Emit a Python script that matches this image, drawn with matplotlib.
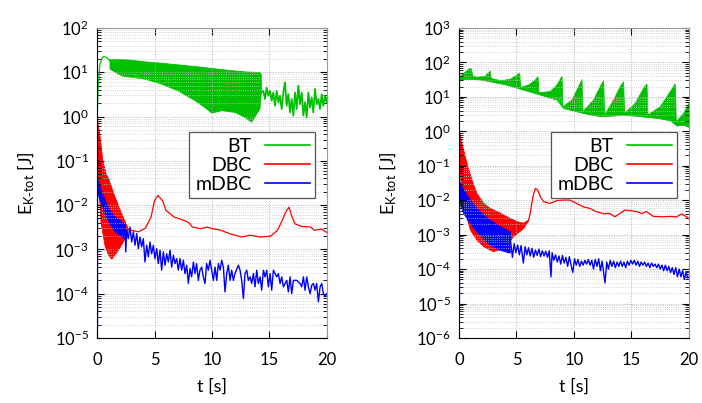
import matplotlib
matplotlib.use('Agg')
import matplotlib.pyplot as plt
from matplotlib.lines import Line2D
from matplotlib.ticker import LogLocator, NullFormatter
import numpy as np

plt.rcParams['font.family'] = ['Lato', 'DejaVu Sans']
plt.rcParams['mathtext.default'] = 'regular'

GREEN = '#00c000'
RED = '#ff0000'
BLUE = '#0000ff'

# ---------------- left panel ----------------
# BT: start, dense oscillation band (upper / lower envelope), noisy tail
bt1_head_t = [0, 0.03, 0.1, 0.25, 0.45, 0.6, 0.9, 1.13]
bt1_head_y = [40, 1.2, 5, 15, 21, 23, 21, 18]
bt1_up_t = [1.13, 2.72, 4.17, 5.62, 7.07, 8.52, 9.97, 11.42, 12.87, 14.17, 14.3]
bt1_up_y = [19.7, 19.1, 17.2, 16.0, 14.7, 13.5, 12.2, 11.1, 10.2, 9.9, 9.0]
bt1_lo_t = [1.13, 2.15, 4.17, 5.62, 7.07, 8.52, 9.39, 9.97, 10.84, 12.0, 12.87,
            13.45, 13.88, 14.17, 14.3]
bt1_lo_y = [11.8, 8.3, 7.0, 5.4, 3.8, 2.3, 1.6, 1.2, 1.36, 1.24, 0.96,
            0.74, 1.14, 1.5, 3.5]
bt1_tail_t = [14.3, 14.46, 14.61, 14.75, 14.90, 15.04, 15.19, 15.33, 15.48, 15.62,
              15.77, 15.91, 16.06, 16.20, 16.35, 16.49, 16.64, 16.78, 16.93, 17.07,
              17.22, 17.36, 17.51, 17.65, 17.80, 17.94, 18.09, 18.23, 18.38, 18.52,
              18.67, 18.81, 18.96, 19.10, 19.25, 19.39, 19.54, 19.68, 19.83, 19.97, 20.0]
bt1_tail_y = [3.5, 3.8, 2.5, 4.5, 2.95, 3.8, 2.3, 3.5, 1.76, 3.8,
              2.1, 2.95, 1.48, 3.5, 5.9, 1.76, 3.2, 1.24, 2.5, 1.05,
              3.5, 1.48, 5.0, 1.9, 3.5, 1.05, 2.1, 0.96, 3.5, 1.6,
              2.7, 1.24, 4.2, 1.9, 2.5, 1.48, 3.2, 1.76, 2.95, 2.1, 2.6]

# DBC: band then single line
dbc1_up_t = [0, 0.3, 0.5, 0.8, 1.0, 1.5, 2.0, 2.4, 2.7]
dbc1_up_y = [1.0, 0.3, 0.1, 0.05, 0.04, 0.017, 0.008, 0.0045, 0.003]
dbc1_lo_t = [0, 0.15, 0.35, 0.7, 1.0, 1.28, 1.8, 2.3, 2.7]
dbc1_lo_y = [0.3, 0.03, 0.004, 0.0012, 7.5e-4, 6e-4, 9e-4, 1.5e-3, 2.5e-3]
dbc1_t = [2.7, 3.0, 3.6, 4.2, 4.7, 5.0, 5.3, 5.7, 6.0, 6.7, 7.6, 8.0, 8.3, 9.0,
          9.6, 10.0, 10.7, 11.6, 12.6, 13.3, 14.2, 15.1, 15.7, 16.1, 16.4, 16.7,
          16.9, 17.2, 17.8, 18.6, 18.9, 19.5, 20.0]
dbc1_y = [2.9e-3, 2.7e-3, 2.5e-3, 3.0e-3, 5.4e-3, 0.0126, 0.0166, 0.0126, 7.6e-3,
          5.4e-3, 4.5e-3, 4.0e-3, 3.2e-3, 2.95e-3, 3.2e-3, 2.95e-3, 2.75e-3, 2.24e-3,
          1.9e-3, 2.1e-3, 1.9e-3, 2.0e-3, 2.7e-3, 4.5e-3, 6.9e-3, 9.0e-3, 6.0e-3,
          3.8e-3, 3.3e-3, 3.2e-3, 2.7e-3, 2.9e-3, 2.4e-3]

# mDBC: start, band, then single line
mdbc1_head_t = [0, 0]
mdbc1_head_y = [1.8e-5, 0.03]
mdbc1_band_t = [0, 0.26, 0.7, 1.13, 1.56, 2.0, 2.43]
mdbc1_up_y = [0.043, 0.026, 0.013, 7.6e-3, 5.4e-3, 4.5e-3, 3.6e-3]
mdbc1_lo_y = [0.021, 0.013, 6.4e-3, 3.8e-3, 2.5e-3, 2.1e-3, 1.75e-3]
mdbc1_t = [2.43, 2.5, 2.58, 2.72, 2.87, 3.01, 3.16, 3.30, 3.45, 3.59, 3.74, 3.88,
           4.03, 4.17, 4.32, 4.46, 4.61, 4.75, 4.90, 5.04, 5.19, 5.33, 5.48, 5.62,
           5.77, 5.91, 6.06, 6.20, 6.35, 6.49, 6.64, 6.78, 6.93, 7.07, 7.22, 7.36,
           7.51, 7.65, 7.80, 7.94, 8.09, 8.23, 8.38, 8.52, 8.66, 8.81, 8.95, 9.10,
           9.24, 9.39, 9.53, 9.68, 9.83, 9.97, 10.12, 10.26, 10.41, 10.55, 10.70,
           10.84, 10.99, 11.13, 11.28, 11.42, 11.57, 11.71, 11.86, 12.00, 12.29,
           12.44, 12.58, 12.73, 12.87, 13.02, 13.16, 13.31, 13.45, 13.60, 13.74,
           13.89, 14.03, 14.18, 14.32, 14.47, 14.61, 14.76, 14.90, 15.05, 15.19,
           15.34, 15.63, 15.77, 15.92, 16.06, 16.21, 16.50, 16.64, 16.79, 16.93,
           17.08, 17.37, 17.66, 17.80, 17.95, 18.09, 18.24, 18.38, 18.53, 18.67,
           18.82, 18.96, 19.10, 19.25, 19.40, 19.54, 19.69, 19.83, 19.98]
mdbc1_y = [3.5e-3, 8.8e-4, 2.7e-3, 1.75e-3, 3.2e-3, 1.47e-3, 2.5e-3, 1.24e-3, 2.27e-3,
           1.04e-3, 1.9e-3, 1.14e-3, 1.75e-3, 5.2e-4, 1.24e-3, 6.8e-4, 1.47e-3, 8.0e-4,
           1.24e-3, 6.2e-4, 1.04e-3, 4.8e-4, 9.6e-4, 3.4e-4, 8.8e-4, 4.4e-4, 8.0e-4,
           5.2e-4, 9.6e-4, 4.0e-4, 7.4e-4, 4.8e-4, 6.2e-4, 3.4e-4, 6.2e-4, 3.4e-4,
           5.7e-4, 2.85e-4, 4.4e-4, 1.7e-4, 3.7e-4, 2.4e-4, 5.2e-4, 2.85e-4, 4.8e-4,
           2.0e-4, 3.4e-4, 4.0e-4, 2.4e-4, 1.7e-4, 4.8e-4, 3.4e-4, 5.7e-4, 3.4e-4,
           2.0e-4, 4.0e-4, 2.0e-4, 4.8e-4, 3.4e-4, 5.7e-4, 4.0e-4, 1.1e-4, 2.85e-4,
           4.4e-4, 2.0e-4, 3.4e-4, 2.0e-4, 2.85e-4, 4.4e-4, 3.4e-4, 2.0e-4, 7.8e-5,
           2.85e-4, 3.4e-4, 2.0e-4, 2.4e-4, 1.7e-4, 2.85e-4, 1.43e-4, 3.4e-4, 1.7e-4,
           2.4e-4, 1.2e-4, 3.4e-4, 2.4e-4, 3.4e-4, 1.43e-4, 2.85e-4, 1.2e-4, 3.4e-4,
           2.4e-4, 2.85e-4, 1.7e-4, 2.4e-4, 1.43e-4, 2.0e-4, 1.1e-4, 2.4e-4, 1.0e-4,
           2.0e-4, 2.0e-4, 1.7e-4, 1.43e-4, 2.4e-4, 1.2e-4, 2.4e-4, 1.43e-4, 1.0e-4,
           1.55e-4, 1.7e-4, 1.2e-4, 1.7e-4, 6.6e-5, 1.43e-4, 1.7e-4, 1.0e-4, 8.5e-5,
           1.0e-4]

# ---------------- right panel ----------------
bt2_head_t = [0, 0, 0.03, 0.06]
bt2_head_y = [105, 7, 7, 30]
bt2_up_t = [0.06, 0.41, 0.84, 1.04, 1.22, 1.57, 2.29, 2.72, 2.81, 3.59, 4.46, 5.04,
            5.28, 5.36, 6.06, 6.64, 6.87, 6.96, 7.94, 8.52, 8.96, 9.04, 9.83, 10.41,
            10.7, 10.78, 11.71, 12.29, 12.58, 12.67, 13.45, 14.03, 14.32, 14.4, 15.33,
            16.06, 16.35, 16.43, 17.51, 18.38, 18.81, 18.9, 19.54, 20.0]
bt2_up_y = [38.6, 48, 63, 68, 40, 36.9, 40, 56, 34.5, 29.5, 32.3, 43,
            50, 18.9, 22, 31, 38.6, 13.2, 14.2, 22, 40, 5.2, 8.1, 19.8,
            32, 3.7, 8.1, 19.8, 29.7, 2.97, 8.1, 19.8, 27.6, 3.3, 6.5,
            17.7, 23.7, 2.97, 5.2, 14.2, 23.7, 1.9, 3.3, 6.5]
bt2_lo_t = [0.06, 0.55, 1.13, 1.86, 2.72, 4.17, 5.62, 7.07, 8.52, 9.1, 9.97, 10.84,
            12.29, 13.45, 14.32, 15.77, 17.22, 18.38, 18.96, 19.54, 20.0]
bt2_lo_y = [29.5, 32, 32, 31, 27.6, 22, 15.8, 11.3, 8.1, 4.6, 3.9, 3.3,
            2.66, 2.78, 2.97, 2.66, 2.38, 2.04, 1.43, 1.5, 1.3]

dbc2_up_t = [0, 0.05, 0.26, 0.7, 1.13, 1.56, 2.14, 2.72, 3.6, 4.17, 5.04, 5.62, 6.06]
dbc2_up_y = [1.9, 1.0, 0.45, 0.117, 0.0385, 0.0158, 8.1e-3, 5.8e-3, 4.2e-3, 3.3e-3,
             2.4e-3, 2.15e-3, 2.65e-3]
dbc2_lo_t = [0, 0.2, 0.5, 1.0, 1.56, 2.14, 3.0, 3.88, 4.75, 5.62, 6.06]
dbc2_lo_y = [0.3, 0.03, 5e-3, 1.35e-3, 6.9e-4, 4.5e-4, 3.2e-4, 4e-4, 8.7e-4, 1.5e-3, 2.5e-3]
dbc2_t = [6.06, 6.2, 6.43, 6.64, 6.84, 7.07, 7.36, 7.94, 8.52, 9.1, 9.65, 10.23, 10.81,
          11.39, 11.97, 12.55, 13.13, 13.56, 14.0, 14.43, 14.87, 15.45, 15.88, 16.3,
          16.9, 17.77, 18.35, 18.93, 19.36, 19.8, 20.0]
dbc2_y = [2.65e-3, 4.2e-3, 0.0126, 0.022, 0.02, 0.0126, 9.1e-3, 8.1e-3, 9.8e-3, 0.0101,
          0.0101, 8.1e-3, 6.4e-3, 5.8e-3, 4.6e-3, 4.1e-3, 4.1e-3, 3.3e-3, 4.1e-3, 5.2e-3,
          5.0e-3, 4.7e-3, 4.1e-3, 4.7e-3, 3.4e-3, 3.3e-3, 3.4e-3, 3.3e-3, 4.0e-3, 3.3e-3,
          2.9e-3]

mdbc2_head_t = [0, 0]
mdbc2_head_y = [9e-6, 0.0385]
mdbc2_band_t = [0, 0.41, 1.0, 1.56, 2.14, 2.72, 3.6, 4.46]
mdbc2_up_y = [0.0385, 0.02, 0.0101, 5.8e-3, 3.7e-3, 2.65e-3, 1.7e-3, 1.2e-3]
mdbc2_lo_y = [0.01, 4.1e-3, 2.1e-3, 1.2e-3, 7.8e-4, 5e-4, 3.5e-4, 2.9e-4]
mdbc2_t = [4.46, 4.5, 4.65, 4.8, 4.95, 5.1, 5.25, 5.4, 5.6, 5.75, 5.9, 6.05, 6.2, 6.35,
           6.5, 6.65, 6.8, 6.95, 7.1, 7.25, 7.4, 7.55, 7.7, 7.85, 8.0, 8.1, 8.25, 8.4,
           8.55, 8.7, 8.85, 9.0, 9.15, 9.3, 9.45, 9.6, 9.75, 9.9, 10.05, 10.2, 10.35,
           10.5, 10.65, 10.8, 10.95, 11.1, 11.25, 11.4, 11.55, 11.7, 11.85, 12.0, 12.15,
           12.3, 12.45, 12.6, 12.7, 12.85, 13.0, 13.15, 13.3, 13.45, 13.6, 13.75, 13.9,
           14.05, 14.2, 14.35, 14.5, 14.65, 14.8, 14.95, 15.1, 15.25, 15.4, 15.55, 15.7,
           15.85, 16.0, 16.15, 16.3, 16.45, 16.6, 16.75, 16.9, 17.05, 17.2, 17.35, 17.5,
           17.65, 17.8, 17.95, 18.1, 18.25, 18.4, 18.55, 18.7, 18.85, 19.0, 19.15, 19.3,
           19.45, 19.6, 19.75, 19.9, 20.0]
mdbc2_y = [1.2e-3, 6.0e-4, 2.2e-4, 5.5e-4, 3.0e-4, 5.0e-4, 2.6e-4, 4.8e-4, 1.5e-4, 4.5e-4,
           2.6e-4, 4.2e-4, 2.4e-4, 4.0e-4, 2.2e-4, 3.6e-4, 2.5e-4, 3.8e-4, 2.3e-4, 3.4e-4,
           2.4e-4, 3.3e-4, 2.2e-4, 3.4e-4, 6e-5, 3.0e-4, 1.8e-4, 2.6e-4, 1.6e-4, 2.4e-4,
           1.4e-4, 2.5e-4, 1.5e-4, 2.2e-4, 1.2e-4, 2.3e-4, 1.3e-4, 8e-5, 2.0e-4, 1.3e-4,
           1.9e-4, 1.2e-4, 1.7e-4, 1.3e-4, 1.8e-4, 1.4e-4, 1.9e-4, 1.3e-4, 1.8e-4, 1.0e-4,
           1.9e-4, 1.2e-4, 2.0e-4, 9e-5, 1.7e-4, 7e-5, 4e-5, 1.6e-4, 1.0e-4, 1.8e-4,
           1.2e-4, 1.7e-4, 1.1e-4, 1.6e-4, 1.2e-4, 1.7e-4, 1.2e-4, 1.6e-4, 1.1e-4, 1.7e-4,
           1.3e-4, 1.8e-4, 1.4e-4, 1.8e-4, 1.3e-4, 1.7e-4, 1.2e-4, 1.6e-4, 1.3e-4, 1.6e-4,
           1.2e-4, 1.5e-4, 1.1e-4, 1.5e-4, 1.2e-4, 1.4e-4, 1.1e-4, 1.4e-4, 1.0e-4, 1.3e-4,
           9e-5, 1.3e-4, 9e-5, 1.2e-4, 8e-5, 1.1e-4, 7e-5, 1.1e-4, 6e-5, 1.0e-4,
           6e-5, 9e-5, 5e-5, 8e-5, 5.5e-5, 6e-5]


def band(ax, t_up, y_up, t_lo, y_lo, color):
    xs = np.concatenate([t_up, t_lo[::-1]])
    ys = np.concatenate([y_up, y_lo[::-1]])
    ax.fill(xs, ys, color=color, lw=0.6, edgecolor=color)


def style(ax, ymin, ymax):
    ax.set_yscale('log')
    ax.set_xlim(0, 20)
    ax.set_ylim(ymin, ymax)
    ax.set_xticks([0, 5, 10, 15, 20])
    ax.yaxis.set_major_locator(LogLocator(base=10, numticks=20))
    ax.yaxis.set_minor_locator(LogLocator(base=10, subs=np.arange(2, 10), numticks=20))
    ax.yaxis.set_minor_formatter(NullFormatter())
    ax.grid(True, which='major', color='#b0b0b0', ls=':', lw=0.7)
    ax.grid(True, which='minor', axis='y', color='#c8c8c8', ls=':', lw=0.6)
    ax.tick_params(which='both', direction='in', top=True, right=True, labelsize=12)
    ax.tick_params(axis='y', which='major', length=5, pad=6)
    ax.tick_params(axis='y', which='minor', length=3)
    ax.tick_params(axis='x', length=5, pad=10)
    for s in ['top', 'right']:
        ax.spines[s].set_color('#999999')
    ax.set_xlabel('t [s]', fontsize=13, labelpad=8)
    ax.set_ylabel(r'E$_{K\text{-}tot}$ [J]', fontsize=13, labelpad=12)
    handles = [Line2D([], [], color=GREEN, lw=1.2),
               Line2D([], [], color=RED, lw=1.2),
               Line2D([], [], color=BLUE, lw=1.2)]
    leg = ax.legend(handles, ['BT', 'DBC', 'mDBC'], loc='upper right',
                    bbox_to_anchor=(0.95, 0.665), markerfirst=False, fancybox=False,
                    framealpha=1, edgecolor='#555555', fontsize=14, handlelength=2.3,
                    labelspacing=0.1, borderpad=0.3, handletextpad=0.7,
                    borderaxespad=0)
    leg.get_frame().set_linewidth(0.9)


fig = plt.figure(figsize=(7.02, 4.03), dpi=100)
ax1 = fig.add_axes([0.1382, 0.1613, 0.3276, 0.7692])
ax2 = fig.add_axes([0.6538, 0.1613, 0.3276, 0.7692])

# left
ax1.plot(bt1_head_t, bt1_head_y, color=GREEN, lw=0.9)
band(ax1, bt1_up_t, bt1_up_y, bt1_lo_t, bt1_lo_y, GREEN)
ax1.plot(bt1_tail_t, bt1_tail_y, color=GREEN, lw=1.3)
band(ax1, dbc1_up_t, dbc1_up_y, dbc1_lo_t, dbc1_lo_y, RED)
ax1.plot(dbc1_t, dbc1_y, color=RED, lw=0.9)
ax1.plot(mdbc1_head_t, mdbc1_head_y, color=BLUE, lw=0.9)
band(ax1, mdbc1_band_t, mdbc1_up_y, mdbc1_band_t, mdbc1_lo_y, BLUE)
ax1.plot(mdbc1_t, mdbc1_y, color=BLUE, lw=1.0)
style(ax1, 1e-5, 1e2)

# right
ax2.plot(bt2_head_t, bt2_head_y, color=GREEN, lw=0.9)
band(ax2, bt2_up_t, bt2_up_y, bt2_lo_t, bt2_lo_y, GREEN)
band(ax2, dbc2_up_t, dbc2_up_y, dbc2_lo_t, dbc2_lo_y, RED)
ax2.plot(dbc2_t, dbc2_y, color=RED, lw=0.9)
ax2.plot(mdbc2_head_t, mdbc2_head_y, color=BLUE, lw=0.9)
band(ax2, mdbc2_band_t, mdbc2_up_y, mdbc2_band_t, mdbc2_lo_y, BLUE)
ax2.plot(mdbc2_t, mdbc2_y, color=BLUE, lw=1.0)
style(ax2, 1e-6, 1e3)

fig.savefig('out.png', dpi=100)
